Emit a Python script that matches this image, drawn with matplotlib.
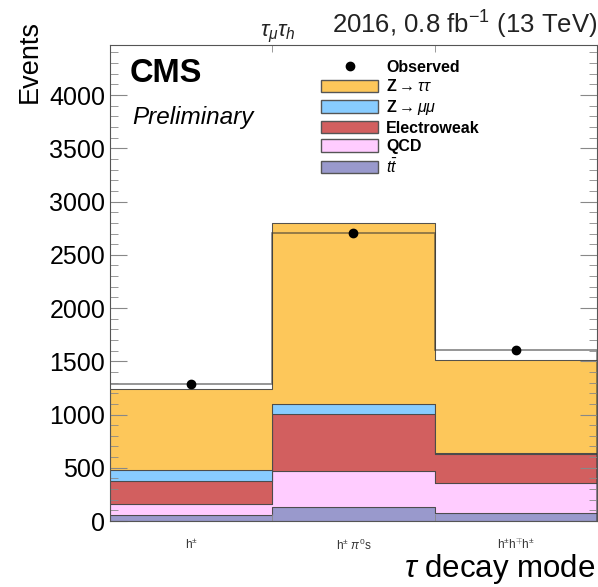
import numpy as np
import matplotlib
matplotlib.use('Agg')
import matplotlib.pyplot as plt
from matplotlib.patches import Patch
from matplotlib.lines import Line2D
from matplotlib.ticker import MultipleLocator

plt.rcParams['font.family'] = ['Liberation Sans', 'DejaVu Sans']
plt.rcParams['mathtext.fontset'] = 'custom'
plt.rcParams['mathtext.rm'] = 'Liberation Sans'
plt.rcParams['mathtext.it'] = 'Liberation Sans:italic'

# Bins: tau decay modes
modes = [r'h$^{\pm}$', r'h$^{\pm}$ $\pi^{0}$s', r'h$^{\pm}$h$^{\mp}$h$^{\pm}$']
edges = np.arange(len(modes) + 1)

# Background contributions per bin (stacked bottom -> top)
ttbar = [56, 132, 78]
qcd = [107, 338, 282]
electroweak = [213, 534, 267]
zmumu = [101, 94, 13]
ztautau = [765, 1699, 875]

total_line = [1289, 2703, 1609]
observed = [1289, 2703, 1609]

names = [r'$t\bar{t}$', 'QCD', 'Electroweak', r'Z$\rightarrow\mu\mu$', r'Z$\rightarrow\tau\tau$']
colors = ['#9999cc', '#ffccff', '#d25f5f', '#88ccff', '#fdc75a']
stack = [ttbar, qcd, electroweak, zmumu, ztautau]

fig = plt.figure(figsize=(5.98, 5.87), dpi=100)
ax = fig.add_axes([0.184, 0.1124, 0.814, 0.8109])

bottom = np.zeros(len(modes))
for vals, c in zip(stack, colors):
    vals = np.array(vals, dtype=float)
    ax.stairs(bottom + vals, edges, baseline=bottom, fill=True, color=c,
              edgecolor='#333333', linewidth=0.6)
    ax.stairs(bottom + vals, edges, baseline=bottom, color='#555555', linewidth=0.8, alpha=0.6)
    bottom = bottom + vals

ax.stairs(total_line, edges, color='#333333', linewidth=1.2, alpha=0.6)
centers = 0.5 * (edges[:-1] + edges[1:])
ax.plot(centers, observed, 'o', color='black', markersize=6, zorder=5)

ax.set_xlim(edges[0], edges[-1])
ax.set_ylim(0, 4470)
ax.set_xticks(centers)
ax.set_xticklabels(modes, fontsize=8.5, color='#333333')
ax.tick_params(axis='x', which='major', length=0, pad=12)
ax.set_xticks(edges[1:-1], minor=True)
ax.tick_params(axis='x', which='minor', direction='in', length=5, top=True, bottom=True, color='#888888')
ax.yaxis.set_major_locator(MultipleLocator(500))
ax.yaxis.set_minor_locator(MultipleLocator(100))
ax.tick_params(axis='y', which='major', direction='in', length=12, right=True, labelsize=18, color='#888888')
ax.tick_params(axis='y', which='minor', direction='in', length=6, right=True, color='#888888')
for s in ax.spines.values():
    s.set_color('#555555')

fig.text(0.05, 0.966, 'Events', rotation=90, ha='center', va='top', fontsize=19.5)
fig.text(0.996, 0.017, r'$\tau$ decay mode', ha='right', va='baseline', fontsize=22.5)

fig.text(0.998, 0.93, r'2016, 0.8 fb$^{-1}$ (13 TeV)', ha='right', va='bottom', fontsize=18.5, color='#222222')
fig.text(0.465, 0.923, r'$\tau_{\mu}\tau_{h}$', ha='center', va='bottom', fontsize=16, color='#222222')

ax.text(0.04, 0.941, 'CMS', transform=ax.transAxes, fontsize=23.5, fontweight='bold', va='center')
ax.text(0.045, 0.848, 'Preliminary', transform=ax.transAxes, fontsize=17.5, style='italic', va='center')

handles = [Line2D([], [], marker='o', color='black', linestyle='none', markersize=6)]
labels = ['Observed']
for n, c in zip(names[::-1], colors[::-1]):
    handles.append(Patch(facecolor=c, edgecolor='#555555'))
    labels.append(n)
leg = ax.legend(handles, labels, loc='upper left', bbox_to_anchor=(0.42, 0.982), frameon=False,
                prop={'size': 11.5, 'weight': 'bold'}, handlelength=3.6, handleheight=0.85,
                labelspacing=0.22, handletextpad=0.5, borderaxespad=0.0)

fig.savefig('out.png', dpi=100)
